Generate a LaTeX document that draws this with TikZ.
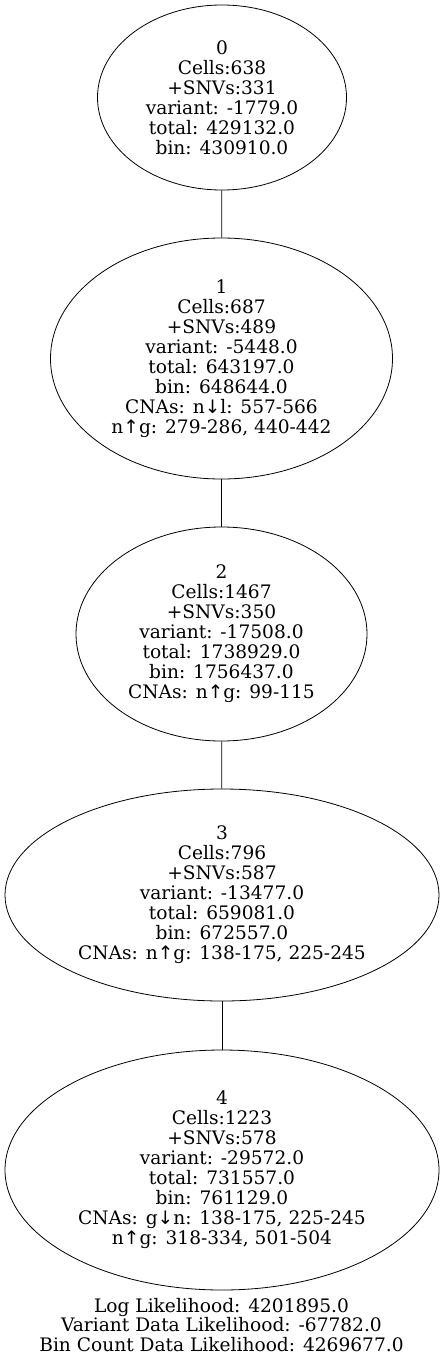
\documentclass[tikz,border=0pt]{standalone}
\usepackage{fontspec}
\setmainfont{DejaVu Serif}
\newfontfamily\arrfont{DejaVu Sans}
\usetikzlibrary{shapes.geometric}
\newcommand{\dn}{{\arrfont ↓}}
\newcommand{\upa}{{\arrfont ↑}}
\begin{document}
\begin{tikzpicture}[x=1pt,y=-1pt,
  tnode/.style={ellipse, draw, line width=0.8pt, inner sep=0pt, align=center,
    font=\fontsize{18.6}{20}\selectfont},
  edge/.style={draw, line width=0.8pt}]
\useasboundingbox (0,0) rectangle (444,1362);
\node[tnode, minimum width=249pt, minimum height=185pt] (n0) at (222,97.5)
  {0\\Cells:638\\+SNVs:331\\variant: -1779.0\\total: 429132.0\\bin: 430910.0};
\node[tnode, minimum width=342pt, minimum height=241pt] (n1) at (221.5,358.5)
  {1\\Cells:687\\+SNVs:489\\variant: -5448.0\\total: 643197.0\\bin: 648644.0\\CNAs: n\dn l: 557-566\\n\upa g: 279-286, 440-442};
\node[tnode, minimum width=291pt, minimum height=214pt] (n2) at (221.5,634)
  {2\\Cells:1467\\+SNVs:350\\variant: -17508.0\\total: 1738929.0\\bin: 1756437.0\\CNAs: n\upa g: 99-115};
\node[tnode, minimum width=434pt, minimum height=212pt] (n3) at (222,895)
  {3\\Cells:796\\+SNVs:587\\variant: -13477.0\\total: 659081.0\\bin: 672557.0\\CNAs: n\upa g: 138-175, 225-245};
\node[tnode, minimum width=434pt, minimum height=240pt] (n4) at (222,1170)
  {4\\Cells:1223\\+SNVs:578\\variant: -29572.0\\total: 731557.0\\bin: 761129.0\\CNAs: g\dn n: 138-175, 225-245\\n\upa g: 318-334, 501-504};
\node[align=center, inner sep=0pt, font=\fontsize{18.6}{19.5}\selectfont] (lbl) at (221.5,1325)
  {Log Likelihood: 4201895.0\\Variant Data Likelihood: -67782.0\\Bin Count Data Likelihood: 4269677.0};
\draw[edge] (n0) -- (n1);
\draw[edge] (n1) -- (n2);
\draw[edge] (n2) -- (n3);
\draw[edge] (n3) -- (n4);
\end{tikzpicture}
\end{document}
